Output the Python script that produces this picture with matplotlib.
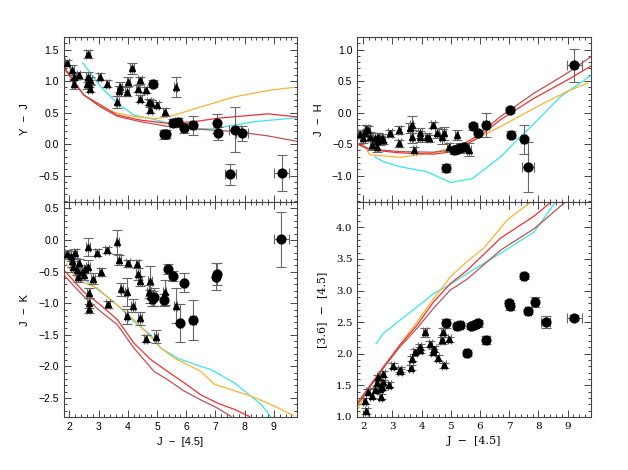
import matplotlib
matplotlib.use("Agg")
import matplotlib.pyplot as plt
from matplotlib.ticker import MultipleLocator
import numpy as np

# ---------------- data: Y - J ----------------
yj_tri_x = [1.92, 2.09, 2.15, 2.17, 2.32, 2.63, 2.60, 2.63, 2.66, 2.70, 2.72, 3.04, 3.30, 3.64, 3.70, 3.75,
            3.98, 4.02, 4.15, 4.35, 4.41, 4.42, 4.61, 4.73, 4.76, 4.81, 5.01, 5.26, 5.64]
yj_tri_y = [1.29, 1.18, 0.96, 1.07, 1.09, 1.43, 0.95, 1.07, 0.96, 0.88, 1.01, 1.07, 0.96, 0.67, 0.84, 0.91,
            0.83, 0.99, 1.20, 0.88, 1.01, 0.72, 0.86, 0.67, 0.54, 0.65, 0.62, 0.51, 0.91]
yj_tri_e = [0.04, 0.08, 0.08, 0.06, 0.06, 0.06, 0.08, 0.08, 0.06, 0.06, 0.06, 0.06, 0.06, 0.1, 0.08, 0.08,
            0.07, 0.07, 0.09, 0.06, 0.05, 0.06, 0.05, 0.05, 0.05, 0.05, 0.05, 0.06, 0.16]
yj_cir_x = [4.86, 5.24, 5.32, 5.56, 5.73, 5.93, 6.24, 7.04, 7.07, 7.51, 7.68, 7.90, 9.26]
yj_cir_y = [0.96, 0.155, 0.16, 0.34, 0.35, 0.26, 0.30, 0.33, 0.17, -0.48, 0.23, 0.17, -0.46]
yj_cir_e = [0.05, 0.07, 0.07, 0.06, 0.07, 0.08, 0.15, 0.15, 0.1, 0.17, 0.36, 0.12, 0.29]
yj_cir_xe = [0.05, 0.1, 0.1, 0.1, 0.1, 0.1, 0.1, 0.05, 0.05, 0.2, 0.2, 0.2, 0.25]

yj_cyan_x = [2.46, 3.07, 3.64, 4.21, 5.01, 5.59, 6.27, 6.85, 7.65, 8.33, 9.82]
yj_cyan_y = [1.29, 0.91, 0.65, 0.46, 0.38, 0.30, 0.25, 0.24, 0.30, 0.355, 0.42]
yj_orng_x = [1.86, 2.49, 3.07, 3.64, 4.21, 4.78, 5.13, 5.59, 6.50, 7.65, 8.79, 9.65]
yj_orng_y = [1.17, 0.78, 0.59, 0.49, 0.44, 0.41, 0.41, 0.46, 0.59, 0.75, 0.85, 0.90]
yj_red_x = [1.86, 2.49, 3.07, 3.64, 4.44, 5.36, 6.27, 7.07, 8.79, 9.82]
yj_red_y = [1.20, 0.78, 0.62, 0.46, 0.38, 0.33, 0.355, 0.41, 0.48, 0.43]
yj_dred_x = [1.86, 2.49, 3.07, 3.64, 4.44, 5.36, 6.27, 7.65, 8.79, 9.82]
yj_dred_y = [1.18, 0.78, 0.59, 0.44, 0.355, 0.28, 0.24, 0.20, 0.13, 0.04]

# ---------------- data: J - H ----------------
jh_tri_x = [1.89, 2.00, 2.06, 2.11, 2.17, 2.23, 2.29, 2.40, 2.46, 2.46, 2.52, 2.57, 2.63, 2.69, 2.92,
            3.24, 3.24, 3.61, 3.66, 3.66, 3.75, 3.95, 3.95, 4.18, 4.24, 4.39, 4.53, 4.70, 4.76, 4.93,
            5.20, 5.31, 5.62]
jh_tri_y = [-0.34, -0.41, -0.33, -0.26, -0.27, -0.38, -0.51, -0.40, -0.45, -0.54, -0.38, -0.44, -0.40,
            -0.44, -0.33, -0.28, -0.49, -0.25, -0.19, -0.38, -0.59, -0.33, -0.38, -0.38, -0.41, -0.20,
            -0.33, -0.38, -0.33, -0.55, -0.35, -0.56, -0.59]
jh_tri_e = [0.06, 0.07, 0.06, 0.06, 0.06, 0.07, 0.08, 0.07, 0.07, 0.08, 0.06, 0.07, 0.06, 0.06, 0.06,
            0.06, 0.06, 0.08, 0.14, 0.1, 0.05, 0.08, 0.08, 0.06, 0.06, 0.05, 0.08, 0.12, 0.1, 0.06,
            0.08, 0.08, 0.1]
jh_cir_x = [4.84, 5.12, 5.22, 5.32, 5.44, 5.75, 5.93, 6.21, 7.02, 7.05, 7.49, 7.65, 9.23]
jh_cir_y = [-0.88, -0.60, -0.58, -0.56, -0.54, -0.22, -0.33, -0.19, 0.045, -0.35, -0.42, -0.86, 0.75]
jh_cir_e = [0.07, 0.05, 0.05, 0.05, 0.05, 0.06, 0.06, 0.19, 0.05, 0.06, 0.23, 0.4, 0.26]
jh_cir_xe = [0.05, 0.05, 0.05, 0.05, 0.05, 0.05, 0.05, 0.1, 0.05, 0.05, 0.1, 0.2, 0.25]

jh_cyan_x = [2.40, 2.69, 3.26, 4.18, 4.99, 5.73, 6.71, 7.28, 7.86, 8.77, 9.84]
jh_cyan_y = [-0.70, -0.78, -0.86, -0.94, -1.11, -1.05, -0.70, -0.43, -0.17, 0.26, 0.60]
jh_orng_x = [1.83, 2.23, 3.26, 4.41, 5.10, 5.90, 6.71, 7.86, 9.00, 9.69]
jh_orng_y = [-0.38, -0.67, -0.71, -0.64, -0.54, -0.41, -0.22, 0.07, 0.34, 0.47]
jh_red_x = [1.79, 2.23, 3.26, 4.41, 5.10, 5.90, 6.71, 7.86, 9.00, 9.84]
jh_red_y = [-0.50, -0.59, -0.64, -0.66, -0.62, -0.41, -0.11, 0.23, 0.52, 0.75]
jh_dred_x = [1.79, 2.23, 3.26, 4.41, 5.10, 5.90, 6.71, 7.86, 9.00, 9.84]
jh_dred_y = [-0.49, -0.58, -0.62, -0.63, -0.59, -0.37, -0.06, 0.31, 0.63, 0.90]

# ---------------- data: J - K ----------------
jk_tri_x = [1.92, 2.06, 2.09, 2.21, 2.13, 2.26, 2.32, 2.29, 2.44, 2.55, 2.49, 2.63, 2.63, 2.66, 2.66,
            2.66, 2.81, 2.95, 3.07, 3.29, 3.32, 3.64, 3.70, 3.78, 3.96, 4.00, 3.96, 4.18, 4.33, 4.35,
            4.42, 4.42, 4.61, 4.76, 4.73, 4.76, 4.84, 4.96, 5.26, 5.64]
jk_tri_y = [-0.23, -0.26, -0.34, -0.21, -0.42, -0.47, -0.37, -0.58, -0.50, -0.46, -0.55, -0.11, -0.42,
            -0.84, -1.00, -1.09, -0.61, -0.20, -0.51, -0.16, -1.02, -0.03, -0.32, -0.78, -0.82, -0.37,
            -1.21, -1.04, -0.38, -0.54, -0.65, -1.24, -1.56, -0.65, -0.82, -0.89, -0.95, -1.53, -0.83,
            -1.04]
jk_tri_e = [0.07, 0.08, 0.08, 0.07, 0.08, 0.08, 0.07, 0.08, 0.08, 0.07, 0.08, 0.14, 0.10, 0.08, 0.08,
            0.07, 0.08, 0.06, 0.06, 0.05, 0.06, 0.19, 0.08, 0.1, 0.22, 0.05, 0.12, 0.1, 0.06, 0.1,
            0.08, 0.1, 0.06, 0.24, 0.1, 0.1, 0.1, 0.1, 0.2, 0.28]
jk_cir_x = [4.85, 4.90, 5.24, 5.36, 5.56, 5.79, 5.93, 6.24, 7.03, 7.06, 9.25]
jk_cir_y = [-0.92, -0.90, -0.95, -0.46, -0.57, -1.32, -0.68, -1.27, -0.58, -0.54, 0.01]
jk_cir_e = [0.12, 0.14, 0.1, 0.08, 0.08, 0.3, 0.15, 0.32, 0.21, 0.17, 0.43]
jk_cir_xe = [0.05, 0.05, 0.05, 0.05, 0.05, 0.05, 0.05, 0.1, 0.05, 0.05, 0.25]

jk_cyan_x = [2.38, 2.84, 3.07, 3.64, 4.21, 4.78, 5.13, 5.70, 6.50, 6.85, 7.65, 8.56, 8.88]
jk_cyan_y = [-0.58, -0.74, -0.82, -1.03, -1.29, -1.50, -1.71, -1.87, -2.00, -2.05, -2.26, -2.60, -2.79]
jk_orng_x = [1.90, 2.26, 2.95, 3.64, 4.21, 4.78, 5.13, 5.59, 6.04, 6.50, 6.96, 8.22, 8.79, 9.65]
jk_orng_y = [-0.38, -0.63, -0.76, -1.03, -1.26, -1.53, -1.71, -1.87, -1.97, -2.08, -2.28, -2.47, -2.58, -2.77]
jk_red_x = [1.86, 2.49, 3.07, 3.64, 4.21, 4.78, 5.36, 5.93, 6.50, 7.07, 7.65, 8.16]
jk_red_y = [-0.50, -0.82, -1.03, -1.26, -1.63, -1.89, -2.08, -2.26, -2.45, -2.58, -2.68, -2.79]
jk_dred_x = [1.86, 2.49, 3.07, 3.64, 4.21, 4.90, 5.36, 5.93, 6.50, 7.07, 7.53]
jk_dred_y = [-0.58, -0.89, -1.13, -1.34, -1.71, -2.08, -2.21, -2.39, -2.53, -2.66, -2.79]

# ---------------- data: [3.6] - [4.5] ----------------
ch_tri_x = [2.05, 2.11, 2.17, 2.29, 2.40, 2.52, 2.46, 2.57, 2.60, 2.69, 2.69, 2.63, 2.90, 3.01, 3.25,
            3.27, 3.63, 3.66, 3.78, 3.93, 3.95, 4.12, 4.30, 4.39, 4.43, 4.55, 4.70, 4.73, 4.76, 4.95]
ch_tri_y = [1.25, 1.09, 1.40, 1.34, 1.42, 1.63, 1.53, 1.45, 1.32, 1.68, 1.55, 1.47, 1.51, 1.81, 1.75,
            1.72, 1.78, 1.92, 2.03, 2.11, 2.06, 2.34, 2.15, 2.03, 2.08, 1.93, 2.21, 2.35, 1.82, 2.23]
ch_tri_e = [0.05, 0.05, 0.05, 0.04, 0.04, 0.04, 0.04, 0.04, 0.04, 0.04, 0.04, 0.04, 0.04, 0.04, 0.04,
            0.04, 0.04, 0.04, 0.04, 0.05, 0.05, 0.07, 0.05, 0.05, 0.05, 0.05, 0.05, 0.05, 0.04, 0.04]
ch_cir_x = [4.84, 5.21, 5.31, 5.54, 5.70, 5.79, 5.88, 5.93, 6.21, 7.01, 7.03, 7.49, 7.65, 7.89, 8.25, 9.23]
ch_cir_y = [2.48, 2.44, 2.45, 2.01, 2.44, 2.46, 2.47, 2.48, 2.22, 2.80, 2.75, 3.23, 2.67, 2.82, 2.50, 2.57]
ch_cir_e = [0.07, 0.05, 0.05, 0.05, 0.05, 0.05, 0.05, 0.05, 0.06, 0.05, 0.05, 0.04, 0.04, 0.08, 0.1, 0.04]
ch_cir_xe = [0.05, 0.1, 0.1, 0.1, 0.05, 0.05, 0.05, 0.05, 0.1, 0.05, 0.05, 0.1, 0.1, 0.1, 0.15, 0.25]

ch_cyan_x = [2.44, 2.69, 3.26, 3.84, 4.41, 4.99, 5.56, 6.71, 7.86, 8.60]
ch_cyan_y = [2.16, 2.32, 2.53, 2.74, 2.95, 3.10, 3.27, 3.59, 3.93, 4.41]
ch_orng_x = [1.83, 2.11, 2.69, 3.26, 3.84, 4.41, 4.99, 5.56, 6.13, 6.94, 7.74]
ch_orng_y = [1.13, 1.40, 1.77, 2.14, 2.50, 2.87, 3.22, 3.46, 3.67, 4.12, 4.40]
ch_red_x = [1.83, 2.11, 2.69, 3.26, 3.84, 4.41, 4.99, 5.56, 6.71, 7.86, 8.43]
ch_red_y = [1.24, 1.42, 1.79, 2.14, 2.45, 2.82, 3.11, 3.32, 3.83, 4.18, 4.40]
ch_dred_x = [1.83, 2.69, 3.26, 3.84, 4.41, 4.99, 5.56, 6.71, 7.86, 8.95]
ch_dred_y = [1.21, 1.77, 2.11, 2.40, 2.72, 3.01, 3.18, 3.64, 3.98, 4.41]

C_CYAN = "#33e8e8"
C_ORNG = "#ffb030"
C_RED = "#f03030"
C_DRED = "#c05050"
C_ERR = "#666666"
C_FRAME = "#444444"

fig = plt.figure(figsize=(6.28, 4.70), dpi=100)
W, H = 628.0, 470.0

def make_ax(l, t, r, b):
    return fig.add_axes([l / W, 1 - b / H, (r - l) / W, (b - t) / H])

ax_tl = make_ax(63.5, 37, 297.3, 202)
ax_tr = make_ax(357.3, 37, 591, 202)
ax_bl = make_ax(63.5, 202, 297.3, 417)
ax_br = make_ax(357.3, 202, 591, 417)

panels = [
    (ax_tl, (yj_tri_x, yj_tri_y, yj_tri_e), (yj_cir_x, yj_cir_y, yj_cir_e, yj_cir_xe),
     [(yj_cyan_x, yj_cyan_y, C_CYAN), (yj_orng_x, yj_orng_y, C_ORNG), (yj_red_x, yj_red_y, C_RED), (yj_dred_x, yj_dred_y, C_DRED)],
     (-0.92, 1.7), "Y  \u2212  J", False, "Liberation Sans"),
    (ax_tr, (jh_tri_x, jh_tri_y, jh_tri_e), (jh_cir_x, jh_cir_y, jh_cir_e, jh_cir_xe),
     [(jh_cyan_x, jh_cyan_y, C_CYAN), (jh_orng_x, jh_orng_y, C_ORNG), (jh_red_x, jh_red_y, C_RED), (jh_dred_x, jh_dred_y, C_DRED)],
     (-1.42, 1.2), "J  \u2212  H", False, "Liberation Sans"),
    (ax_bl, (jk_tri_x, jk_tri_y, jk_tri_e), (jk_cir_x, jk_cir_y, jk_cir_e, jk_cir_xe),
     [(jk_cyan_x, jk_cyan_y, C_CYAN), (jk_orng_x, jk_orng_y, C_ORNG), (jk_red_x, jk_red_y, C_RED), (jk_dred_x, jk_dred_y, C_DRED)],
     (-2.8, 0.6), "J  \u2212  K", True, "Liberation Sans"),
    (ax_br, (ch_tri_x, ch_tri_y, ch_tri_e), (ch_cir_x, ch_cir_y, ch_cir_e, ch_cir_xe),
     [(ch_cyan_x, ch_cyan_y, C_CYAN), (ch_orng_x, ch_orng_y, C_ORNG), (ch_red_x, ch_red_y, C_RED), (ch_dred_x, ch_dred_y, C_DRED)],
     (1.0, 4.4), "[3.6]  \u2212  [4.5]", True, "DejaVu Serif"),
]

for ax, tri, cir, lines, ylim, ylabel, xlab, fam in panels:
    for lx, ly, c in lines:
        ax.plot(lx, ly, color=c, lw=0.9, zorder=2)
    tx, ty, te = tri
    ax.errorbar(tx, ty, yerr=te, xerr=0.06, fmt="^", color="black", ms=5,
                ecolor=C_ERR, elinewidth=0.8, capsize=3.5, capthick=0.8, zorder=3)
    cx, cy, ce, cxe = cir
    ax.errorbar(cx, cy, yerr=ce, xerr=cxe, fmt="o", color="black", ms=6.3,
                ecolor=C_ERR, elinewidth=0.8, capsize=3.5, capthick=0.8, zorder=3)
    ax.set_xlim(1.8, 9.8)
    ax.set_ylim(*ylim)
    ax.xaxis.set_major_locator(MultipleLocator(1))
    ax.xaxis.set_minor_locator(MultipleLocator(0.2))
    ax.yaxis.set_major_locator(MultipleLocator(0.5))
    ax.yaxis.set_minor_locator(MultipleLocator(0.1))
    ax.tick_params(which="both", direction="in", top=True, right=True, colors=C_FRAME,
                   labelcolor="black", labelsize=7.5, width=0.7)
    ax.tick_params(which="major", length=5)
    ax.tick_params(which="minor", length=2.5)
    for s in ax.spines.values():
        s.set_color(C_FRAME)
        s.set_linewidth(0.8)
    for lab in ax.get_xticklabels() + ax.get_yticklabels():
        lab.set_family(fam)
    ax.set_ylabel(ylabel, fontsize=8, family=fam, labelpad=6)
    if xlab:
        ax.set_xlabel("J  \u2212  [4.5]", fontsize=8, family=fam, labelpad=4)
    else:
        ax.tick_params(labelbottom=False)

fig.savefig("out.png", dpi=100)
